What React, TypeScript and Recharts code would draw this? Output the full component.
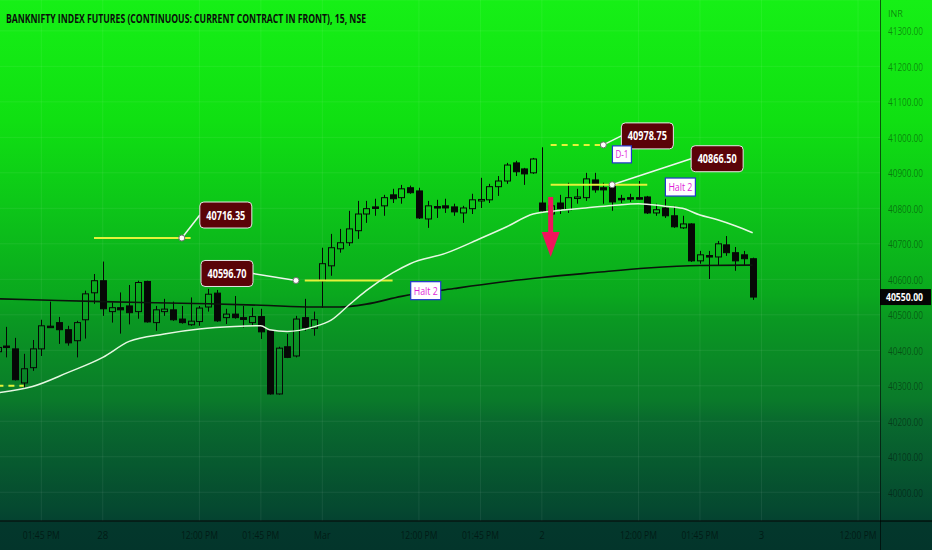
import {
  ComposedChart,
  Bar,
  Line,
  XAxis,
  YAxis,
  CartesianGrid,
  ReferenceLine,
  ReferenceDot,
} from 'recharts'

// 15 min bars, index 0 = 28 Feb 09:15, 25 bars a session
const FIRST_BAR = -12
const LAST_SLOT = 88

const OPEN = [
  40396, 40412, 40404, 40308, 40351, 40404, 40468, 40478, 40458, 40427, 40486, 40562,
  40596, 40509, 40520, 40525, 40509, 40594, 40478, 40509, 40514, 40488, 40472, 40481,
  40522, 40561, 40492, 40502, 40492, 40478, 40495, 40455, 40277, 40410, 40384, 40492, 40462,
  40596, 40638, 40686, 40703, 40737, 40784, 40804, 40807, 40838, 40830, 40858, 40849,
  40770, 40805, 40807, 40804, 40787, 40799, 40824, 40824, 40861, 40877, 40928, 40911, 40900,
  40815, 40784, 40815, 40796, 40830, 40830, 40880, 40858, 40861, 40828, 40830, 40830,
  40832, 40787, 40801, 40779, 40745, 40756, 40652, 40667, 40663, 40697, 40675, 40669, 40658,
]
const HIGH = [
  40420, 40466, 40435, 40390, 40429, 40486, 40537, 40494, 40469, 40483, 40568, 40615,
  40650, 40535, 40563, 40584, 40596, 40596, 40525, 40545, 40537, 40525, 40549, 40525,
  40573, 40570, 40517, 40553, 40525, 40520, 40517, 40457, 40410, 40446, 40497, 40545, 40509,
  40689, 40728, 40742, 40793, 40821, 40821, 40827, 40838, 40855, 40866, 40864, 40858,
  40821, 40824, 40827, 40813, 40807, 40841, 40886, 40869, 40891, 40928, 40934, 40914, 40942,
  40972, 40827, 40838, 40872, 40855, 40900, 40900, 40872, 40872, 40838, 40841, 40877,
  40835, 40813, 40827, 40807, 40779, 40758, 40680, 40680, 40708, 40722, 40691, 40680, 40661,
]
const LOW = [
  40380, 40380, 40315, 40294, 40342, 40384, 40463, 40418, 40413, 40380, 40433, 40531,
  40497, 40478, 40447, 40473, 40489, 40478, 40455, 40497, 40483, 40475, 40469, 40469,
  40509, 40480, 40474, 40489, 40464, 40469, 40432, 40275, 40275, 40378, 40380, 40455, 40441,
  40520, 40610, 40675, 40694, 40714, 40759, 40779, 40779, 40815, 40813, 40841, 40770,
  40745, 40773, 40787, 40779, 40759, 40784, 40801, 40815, 40835, 40869, 40891, 40866, 40897,
  40787, 40756, 40784, 40787, 40813, 40821, 40844, 40813, 40793, 40815, 40818, 40824,
  40784, 40779, 40773, 40745, 40742, 40649, 40644, 40601, 40638, 40666, 40624, 40638, 40542,
]
const CLOSE = [
  40408, 40409, 40317, 40348, 40404, 40469, 40467, 40458, 40421, 40478, 40559, 40596,
  40517, 40520, 40514, 40506, 40591, 40480, 40514, 40516, 40486, 40478, 40482, 40519,
  40558, 40483, 40502, 40492, 40487, 40495, 40452, 40277, 40406, 40380, 40488, 40464, 40486,
  40644, 40689, 40703, 40742, 40784, 40799, 40801, 40830, 40827, 40855, 40844, 40773,
  40807, 40804, 40801, 40790, 40801, 40824, 40825, 40861, 40877, 40922, 40903, 40897, 40939,
  40793, 40807, 40799, 40830, 40832, 40883, 40852, 40852, 40818, 40827, 40829, 40829,
  40787, 40796, 40779, 40748, 40756, 40652, 40669, 40666, 40700, 40675, 40652, 40658, 40550,
]

// moving averages, read at a few bars
const FAST_IDX = [-12, -8, -4, 0, 3, 7, 11, 15, 18, 19, 21, 24, 26, 28, 30, 33, 35, 39, 43, 46, 49, 52, 55, 58, 61, 64, 66, 68, 70, 72, 74]
const FAST_VAL = [40280, 40298, 40337, 40380, 40425, 40446, 40460, 40467, 40469, 40458, 40453, 40466, 40485, 40527, 40568, 40618, 40644, 40673, 40715, 40748, 40784, 40794, 40801, 40808, 40813, 40806, 40800, 40781, 40768, 40751, 40731]
const SLOW_IDX = [-12, -6, 0, 6, 12, 18, 24, 27, 30, 34, 40, 45, 50, 56, 62, 68, 74]
const SLOW_VAL = [40545, 40541, 40537, 40534, 40531, 40527, 40522, 40522, 40530, 40552, 40574, 40591, 40605, 40619, 40632, 40639, 40640]

const TICK_IDX = [-7, 0, 11, 18, 25, 36, 43, 50, 61, 68, 75, 86]
const TICK_LABELS = ['01:45 PM', '28', '12:00 PM', '01:45 PM', 'Mar', '12:00 PM', '01:45 PM', '2', '12:00 PM', '01:45 PM', '3', '12:00 PM']
const PRICE_TICKS = [40000, 40100, 40200, 40300, 40400, 40500, 40600, 40700, 40800, 40900, 41000, 41100, 41200, 41300]

const LEVEL_VAL = [40300, 40716.35, 40596.7, 40978.75, 40866.5]
const LEVEL_FROM = [-12, -1, 23, 51, 51]
const LEVEL_TO = [-9, 10, 33, 57, 62]
const LEVEL_DASHED = [true, false, false, true, false]

const CALLOUT_VAL = [40716.35, 40596.7, 40978.75, 40866.5]
const CALLOUT_IDX = [9, 22, 57, 58]
const HALT_IDX = [37, 66]
const HALT_PRICE = [40568, 40860]
const D1_IDX = 59
const D1_PRICE = 40952
const ARROW_IDX = 51
const ARROW_PRICE = 40832
const LAST_PRICE = 40550

const TITLE = 'BANKNIFTY INDEX FUTURES (CONTINUOUS: CURRENT CONTRACT IN FRONT), 15, NSE'

// box offsets from the anchor dot
const CALLOUT_BOX = [
  { dx: 18, dy: -36 },
  { dx: -95, dy: -20 },
  { dx: 18, dy: -22 },
  { dx: 79, dy: -39 },
]

const rows = Array.from({ length: LAST_SLOT - FIRST_BAR + 1 }, (_, k) => {
  const i = FIRST_BAR + k
  const fi = FAST_IDX.indexOf(i)
  const si = SLOW_IDX.indexOf(i)
  return {
    i,
    o: k < OPEN.length ? OPEN[k] : null,
    h: k < HIGH.length ? HIGH[k] : null,
    l: k < LOW.length ? LOW[k] : null,
    c: k < CLOSE.length ? CLOSE[k] : null,
    fast: fi >= 0 ? FAST_VAL[fi] : null,
    slow: si >= 0 ? SLOW_VAL[si] : null,
  }
})

const INK = '#060806'
const YELLOW = '#e4f23a'
const FONT = '"Open Sans", "Noto Sans", sans-serif'

function Candle(props: any) {
  const { x, y, width, height, payload } = props
  if (!payload || payload.h == null) return null
  const top = Math.min(y, y + height)
  const span = Math.abs(height)
  const k = payload.h === payload.l ? 0 : span / (payload.h - payload.l)
  const cx = Math.round(x + width / 2) + 0.5
  const up = payload.c >= payload.o
  const bTop = top + (payload.h - Math.max(payload.o, payload.c)) * k
  let bBot = top + (payload.h - Math.min(payload.o, payload.c)) * k
  if (bBot - bTop < 1.5) bBot = bTop + 1.5
  const bw = 6
  return (
    <g>
      <line x1={cx} x2={cx} y1={top} y2={bTop} stroke={INK} strokeWidth={1} />
      <line x1={cx} x2={cx} y1={bBot} y2={top + span} stroke={INK} strokeWidth={1} />
      <rect
        x={cx - bw / 2}
        y={bTop}
        width={bw}
        height={bBot - bTop}
        fill={up ? 'none' : INK}
        stroke={INK}
        strokeWidth={1}
      />
    </g>
  )
}

function Callout({ cx, cy, text, dx, dy }: any) {
  const w = 52
  const h = 26
  const bx = cx + dx
  const by = cy + dy
  const ex = dx > 0 ? bx : bx + w
  return (
    <g>
      <line x1={cx} y1={cy} x2={ex} y2={by + h / 2} stroke="#eef5ee" strokeWidth={1.5} />
      <rect x={bx} y={by} width={w} height={h} rx={4} fill="#5a0308" stroke="#e6e6e6" strokeWidth={1} />
      <text
        x={bx + w / 2}
        y={by + h / 2 + 4.5}
        textAnchor="middle"
        fill="#ffffff"
        fontSize={12.5}
        fontWeight={700}
        fontFamily={FONT}
        textLength={39}
        lengthAdjust="spacingAndGlyphs"
      >
        {text}
      </text>
      <circle cx={cx} cy={cy} r={3} fill="#ffffff" stroke="#6f6f6f" strokeWidth={1} />
    </g>
  )
}

function TagBox({ cx, cy, text, w, h, tl }: any) {
  return (
    <g>
      <rect x={cx - w / 2} y={cy - h / 2} width={w} height={h} fill="#ffffff" stroke="#2436cf" strokeWidth={1.2} />
      <text
        x={cx}
        y={cy + 4}
        textAnchor="middle"
        fill="#e01fd8"
        fontSize={11.5}
        fontFamily={FONT}
        textLength={tl}
        lengthAdjust="spacingAndGlyphs"
      >
        {text}
      </text>
    </g>
  )
}

function Arrow({ cx, cy }: any) {
  return (
    <g fill="#f0145c">
      <rect x={cx - 2.5} y={cy} width={5} height={38} />
      <polygon points={`${cx - 9},${cy + 35} ${cx + 9},${cy + 35} ${cx},${cy + 60}`} />
    </g>
  )
}

function LastPrice({ cx, cy }: any) {
  const x0 = cx + 4.4
  return (
    <g>
      <rect x={x0} y={cy - 8} width={51} height={16} fill="#050505" />
      <text
        x={x0 + 6}
        y={cy + 4}
        fill="#ffffff"
        fontSize={11}
        fontWeight={700}
        fontFamily={FONT}
        textLength={37}
        lengthAdjust="spacingAndGlyphs"
      >
        {LAST_PRICE.toFixed(2)}
      </text>
    </g>
  )
}

function TimeTick({ x, y, payload }: any) {
  const label = TICK_LABELS[TICK_IDX.indexOf(payload.value)] ?? ''
  const tl = label.length > 3 ? 37 : label.length * 5.5
  return (
    <text
      x={x}
      y={y + 10}
      textAnchor="middle"
      fill="rgba(0,0,0,0.5)"
      fontSize={10}
      fontFamily={FONT}
      textLength={tl}
      lengthAdjust="spacingAndGlyphs"
    >
      {label}
    </text>
  )
}

function PriceTick({ x, y, payload }: any) {
  return (
    <text
      x={x}
      y={y + 4.5}
      textAnchor="start"
      fill="rgba(0,0,0,0.42)"
      fontSize={10.5}
      fontFamily={FONT}
      textLength={35}
      lengthAdjust="spacingAndGlyphs"
    >
      {payload.value.toFixed(2)}
    </text>
  )
}

const noDot = (p: any) => <g key={'nd' + p.index} />

export default function App() {
  const bg =
    'linear-gradient(to bottom, #16f016 0px, #10e012 120px, #0dc818 200px, #0aa81e 295px, #0a9822 320px, #0a7a2a 400px, #096a2e 420px, #054830 510px, #044230 521px, #03382c 521px, #03352b 550px)'

  return (
    <div
      style={{
        position: 'absolute',
        left: 0,
        top: 0,
        width: 932,
        height: 550,
        overflow: 'hidden',
        background: bg,
      }}
    >
      <div style={{ position: 'absolute', left: -7, top: 0 }}>
        <ComposedChart width={939} height={550} data={rows} margin={{ top: 0, right: 0, bottom: 0, left: 0 }}>
          <CartesianGrid stroke="rgba(255,255,255,0.07)" strokeWidth={1} />
          <XAxis
            dataKey="i"
            type="category"
            ticks={TICK_IDX}
            interval={0}
            height={29}
            axisLine={false}
            tickLine={false}
            tick={<TimeTick />}
          />
          <YAxis
            orientation="right"
            type="number"
            domain={[39919, 41387]}
            allowDataOverflow
            ticks={PRICE_TICKS}
            interval={0}
            width={52}
            axisLine={false}
            tickLine={false}
            tick={<PriceTick />}
          />
          {LEVEL_VAL.map((v, k) => (
            <ReferenceLine
              key={'lv' + k}
              segment={[
                { x: LEVEL_FROM[k], y: v },
                { x: LEVEL_TO[k], y: v },
              ]}
              stroke={YELLOW}
              strokeWidth={2}
              strokeDasharray={LEVEL_DASHED[k] ? '6 5' : undefined}
              ifOverflow="visible"
            />
          ))}
          <Line
            dataKey="slow"
            stroke="#0b140c"
            strokeWidth={1.6}
            dot={noDot}
            activeDot={false}
            connectNulls
            type="monotone"
            isAnimationActive={false}
          />
          <Line
            dataKey="fast"
            stroke="#e6f7e2"
            strokeWidth={1.5}
            dot={noDot}
            activeDot={false}
            connectNulls
            type="monotone"
            isAnimationActive={false}
          />
          <Bar
            dataKey={(d: any) => (d.h == null ? null : [d.l, d.h])}
            barSize={7}
            shape={(p: any) => <Candle {...p} />}
            isAnimationActive={false}
          />
          <ReferenceDot
            x={ARROW_IDX}
            y={ARROW_PRICE}
            ifOverflow="visible"
            shape={(p: any) => <Arrow cx={p.cx} cy={p.cy} />}
          />
          {CALLOUT_VAL.map((v, k) => (
            <ReferenceDot
              key={'co' + k}
              x={CALLOUT_IDX[k]}
              y={v}
              ifOverflow="visible"
              shape={(p: any) => (
                <Callout cx={p.cx} cy={p.cy} text={v.toFixed(2)} dx={CALLOUT_BOX[k].dx} dy={CALLOUT_BOX[k].dy} />
              )}
            />
          ))}
          {HALT_IDX.map((ix, k) => (
            <ReferenceDot
              key={'ht' + k}
              x={ix}
              y={HALT_PRICE[k]}
              ifOverflow="visible"
              shape={(p: any) => <TagBox cx={p.cx - 2} cy={p.cy} text="Halt 2" w={30} h={18} tl={24} />}
            />
          ))}
          <ReferenceDot
            x={D1_IDX}
            y={D1_PRICE}
            ifOverflow="visible"
            shape={(p: any) => <TagBox cx={p.cx + 1} cy={p.cy} text="D-1" w={19} h={17} tl={13} />}
          />
          <ReferenceDot
            x={LAST_SLOT}
            y={LAST_PRICE}
            ifOverflow="visible"
            shape={(p: any) => <LastPrice cx={p.cx} cy={p.cy} />}
          />
        </ComposedChart>
      </div>
      <svg width={932} height={550} style={{ position: 'absolute', left: 0, top: 0, pointerEvents: 'none' }}>
        <line x1={880.5} y1={0} x2={880.5} y2={550} stroke="rgba(0,0,0,0.62)" strokeWidth={1} />
        <line x1={0} y1={521} x2={932} y2={521} stroke="rgba(0,0,0,0.7)" strokeWidth={1.5} />
        <text
          x={6}
          y={22.5}
          fill="#0a0f0a"
          fontSize={12}
          fontWeight={700}
          fontFamily={FONT}
          textLength={360}
          lengthAdjust="spacingAndGlyphs"
        >
          {TITLE}
        </text>
        <text x={888} y={17} fill="rgba(0,0,0,0.45)" fontSize={9} fontFamily={FONT}>
          INR
        </text>
      </svg>
    </div>
  )
}
